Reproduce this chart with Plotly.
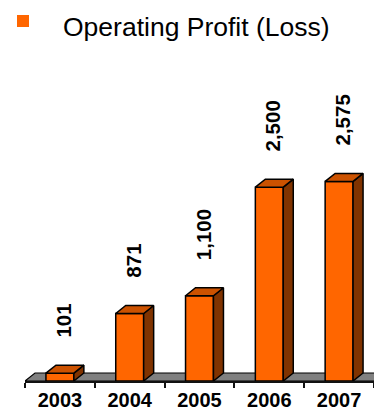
import plotly.graph_objects as go

years = ["2003", "2004", "2005", "2006", "2007"]
profit = [101, 871, 1100, 2500, 2575]
label_text = ["101", "871", "1,100", "2,500", "2,575"]
series_name = "Operating Profit (Loss)"

W, H = 374, 411
L, R, T, B = 25, 0, 60, 30
PW, PH = W - L - R, H - T - B
YMAX = PH * 12.9

FRONT = "#FF6600"
TOP = "#CC5200"
SIDE = "#803300"
FLOOR = "#808080"

BW = 0.4                 # bar width in category units
DX = 10 / (PW / 5)        # depth offset in category units
DY = 8 * YMAX / PH        # depth offset in value units

xs = list(range(len(years)))

fig = go.Figure()
fig.add_trace(go.Bar(x=xs, y=profit, width=BW, marker=dict(color=FRONT, line=dict(color="black", width=1.5)),
                     showlegend=False, hoverinfo="skip"))

top_x, top_y, side_x, side_y = [], [], [], []
for x, v in zip(xs, profit):
    x0, x1 = x - BW / 2, x + BW / 2
    top_x += [x0, x1, x1 + DX, x0 + DX, x0, None]
    top_y += [v, v, v + DY, v + DY, v, None]
    side_x += [x1, x1 + DX, x1 + DX, x1, x1, None]
    side_y += [0, DY, v + DY, v, 0, None]

fig.add_trace(go.Scatter(x=side_x, y=side_y, mode="lines", fill="toself", fillcolor=SIDE,
                         line=dict(color="black", width=1.5), showlegend=False, hoverinfo="skip"))
fig.add_trace(go.Scatter(x=top_x, y=top_y, mode="lines", fill="toself", fillcolor=TOP,
                         line=dict(color="black", width=1.5), showlegend=False, hoverinfo="skip"))

# floor
fig.add_shape(type="path", xref="x", yref="y", layer="below",
              path=f"M -0.5,0 L 4.7,0 L {4.7 + DX},{DY} L {-0.5 + DX},{DY} Z",
              fillcolor=FLOOR, line=dict(color="black", width=1.2))

# data labels
for x, v, t in zip(xs, profit, label_text):
    fig.add_annotation(x=x + 0.05, y=v, xref="x", yref="y", text=f"<b>{t}</b>", textangle=-90,
                       showarrow=False, yanchor="bottom", xanchor="center", yshift=34,
                       font=dict(family="Liberation Sans, Arial", size=20.5, color="black"))

def px_x(p):
    return (p - L) / PW

def px_y(p):
    return (H - B - p) / PH

# legend-like header
fig.add_shape(type="rect", xref="paper", yref="paper", x0=px_x(17), x1=px_x(29), y0=px_y(27), y1=px_y(15),
              fillcolor=FRONT, line=dict(width=0))
fig.add_annotation(xref="paper", yref="paper", x=px_x(61), y=px_y(27), xanchor="left", yanchor="middle",
                   text=series_name, showarrow=False,
                   font=dict(family="Liberation Sans, Arial", size=26.5, color="black"))

fig.update_layout(
    width=W, height=H, margin=dict(l=L, r=R, t=T, b=B),
    paper_bgcolor="white", plot_bgcolor="white",
    bargap=0.6,
    xaxis=dict(range=[-0.5, 4.5], tickmode="array", tickvals=xs, ticktext=[f"<b>{y}</b>" for y in years],
               ticks="", showgrid=False, zeroline=False, showline=True, linecolor="#111", linewidth=2,
               tickfont=dict(family="Liberation Sans, Arial", size=20, color="black"),
               ticklabelstandoff=0,
               minor=dict(tickmode="array", tickvals=[-0.5, 0.5, 1.5, 2.5, 3.5, 4.5], ticks="outside",
                          ticklen=5, tickwidth=2, tickcolor="#111", showgrid=False),
               automargin=False, fixedrange=True),
    yaxis=dict(range=[0, YMAX], visible=False, showgrid=False, zeroline=False, automargin=False),
    showlegend=False,
)

fig.write_html("out.html")
